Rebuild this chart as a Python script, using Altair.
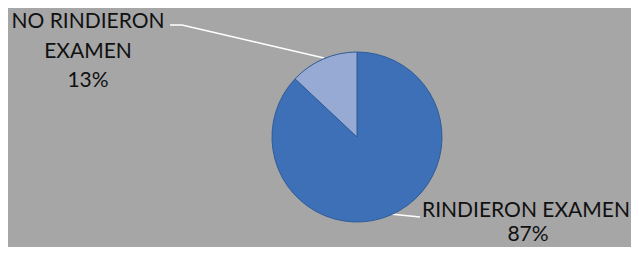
import altair as alt
import pandas as pd

categories = ["RINDIERON EXAMEN", "NO RINDIERON EXAMEN"]
percentages = [87, 13]
order = [1, 2]
label_lines_a = ["NO RINDIERON", "EXAMEN", "13%"]
label_lines_b = ["RINDIERON EXAMEN", "87%"]

df = pd.DataFrame({"cat": categories, "pct": percentages, "ord": order})

W, H = 623, 239
CX, CY, R = 349, 129, 85
FONT = "Lato"
FS = 21

pie = alt.Chart(df).mark_arc(stroke="#2F5C99", strokeWidth=1, outerRadius=R).encode(
    theta=alt.Theta("pct:Q", stack=True),
    order=alt.Order("ord:Q"),
    color=alt.Color("cat:N", scale=alt.Scale(domain=categories, range=["#3D70B6", "#97AAD4"]), legend=None),
    x=alt.value(CX),
    y=alt.value(CY),
)

lead1 = pd.DataFrame({"px": [162, 174, 316], "py": [17, 17, 50], "k": [0, 1, 2]})
line1 = alt.Chart(lead1).mark_line(color="white", strokeWidth=1.5).encode(
    x=alt.X("px:Q", scale=alt.Scale(domain=[0, W]), axis=None),
    y=alt.Y("py:Q", scale=alt.Scale(domain=[H, 0]), axis=None),
    order="k:Q",
)
lead2 = pd.DataFrame({"px": [382, 412], "py": [206, 209], "k": [0, 1]})
line2 = alt.Chart(lead2).mark_line(color="white", strokeWidth=1.5).encode(
    x=alt.X("px:Q", scale=alt.Scale(domain=[0, W]), axis=None),
    y=alt.Y("py:Q", scale=alt.Scale(domain=[H, 0]), axis=None),
    order="k:Q",
)

def text_layer(txt, x, y, fs=FS):
    return alt.Chart(pd.DataFrame({"t": [txt]})).mark_text(
        font=FONT, fontSize=fs, color="#111111", align="center", baseline="alphabetic"
    ).encode(text="t:N", x=alt.value(x), y=alt.value(y))

texts = [
    text_layer(label_lines_a[0], 80, 20),
    text_layer(label_lines_a[1], 80, 50),
    text_layer(label_lines_a[2], 80, 79),
    text_layer(label_lines_b[0], 518, 209),
    text_layer(label_lines_b[1], 520, 233),
]

chart = alt.layer(line1, line2, pie, *texts).properties(
    width=W, height=H, background="#A6A6A6", padding=0,
    autosize=alt.AutoSizeParams(type="none"),
).configure_view(stroke=None)

chart.save("out.html", embed_options={"renderer": "svg", "actions": False})
